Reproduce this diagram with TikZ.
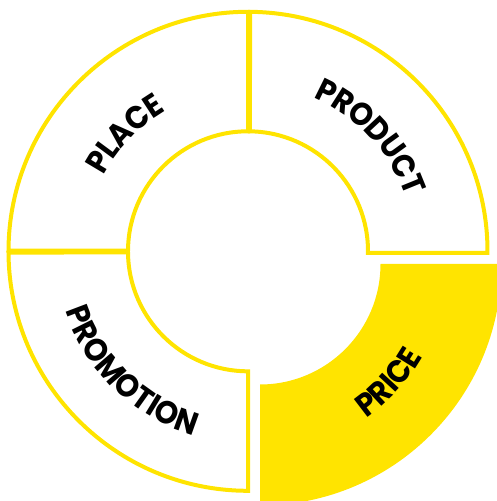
\documentclass[tikz,border=0pt]{standalone}
\usepackage{fontspec}
\usepackage{graphicx}
\setmainfont{Poppins}
\definecolor{ringyellow}{RGB}{255,228,0}
\newcommand\lblfont{\fontsize{32}{32}\selectfont\bfseries}
\newcommand\lblchar[1]{\scalebox{0.93}[1]{#1}}
\newlength\chw
\newcommand\measurechar[1]{%
  \settowidth\chw{\lblfont\lblchar{#1}}%
  \expandafter\xdef\csname lw#1\endcsname{\the\chw}}
\tikzset{
  ring/.style={draw=ringyellow,line width=4pt,line join=miter},
  pricefill/.style={fill=ringyellow,draw=none},
  lbl/.style={anchor=base,inner sep=0pt,font=\lblfont,text=black}
}
% #1 name, #2 start angle, #3 end angle, #4 baseline radius, #5 direction (1 ccw, -1 cw), #6 letters
\newcommand\arclabel[6]{%
  \gdef\arcW{0}\gdef\arcN{0}%
  \foreach \ch in {#6}{%
    \pgfmathsetmacro\tmpa{\arcW+\csname lw\ch\endcsname}\global\let\arcW\tmpa
    \pgfmathsetmacro\tmpb{\arcN+1}\global\let\arcN\tmpb
  }%
  \pgfmathsetmacro\arcL{abs(rad(#3-#2))*#4}%
  \pgfmathsetmacro\arcSp{(\arcL-\arcW)/(\arcN-1)}%
  \pgfmathsetmacro\arcMid{(#2+#3)/2}%
  \gdef\arcPos{0}%
  \foreach \ch [count=\arcK] in {#6}{%
    \pgfmathsetmacro\arcCw{\csname lw\ch\endcsname}%
    \pgfmathsetmacro\arcS{\arcPos+\arcCw/2-\arcL/2}%
    \pgfmathsetmacro\arcAng{\arcMid+#5*deg(\arcS/#4)}%
    \pgfmathsetmacro\arcRot{\arcAng+#5*90}%
    \node[lbl,rotate=\arcRot] (#1\arcK) at (\arcAng:#4) {\lblchar{\ch}};
    \pgfmathsetmacro\tmpc{\arcPos+\arcCw+\arcSp}\global\let\arcPos\tmpc
  }%
}
\begin{document}
\measurechar{P}\measurechar{L}\measurechar{A}\measurechar{C}\measurechar{E}%
\measurechar{R}\measurechar{O}\measurechar{D}\measurechar{U}\measurechar{T}%
\measurechar{M}\measurechar{I}\measurechar{N}%
\begin{tikzpicture}[x=1pt,y=1pt]
\useasboundingbox (0,0) rectangle (497,501);
\clip (0,0) rectangle (497,501);
% price (exploded, filled)
\begin{scope}[shift={(260,237)}]
  \path[pricefill] (270:241.5) arc[start angle=270,end angle=360,radius=241.5]
     -- (0:120.5) arc[start angle=0,end angle=-90,radius=120.5] -- cycle;
  \arclabel{price}{-55.4}{-29.6}{187}{1}{P,R,I,C,E}
\end{scope}
\begin{scope}[shift={(248,249.7)}]
  % place
  \draw[ring] (90:239.5) arc[start angle=90,end angle=179.81,radius=239.5]
     -- (179.62:120) arc[start angle=179.62,end angle=90,radius=120] -- cycle;
  % product
  \draw[ring] (89.52:239.5) arc[start angle=89.52,end angle=-0.36,radius=239.5]
     -- (-0.72:120) arc[start angle=-0.72,end angle=89.05,radius=120] -- cycle;
  % promotion
  \draw[ring] (180.29:239.5) arc[start angle=180.29,end angle=270,radius=239.5]
     -- (270:120) arc[start angle=270,end angle=180.57,radius=120] -- cycle;
  % labels
  \arclabel{place}{152.4}{120.3}{163}{-1}{P,L,A,C,E}
  \arclabel{product}{66.9}{19.1}{167}{-1}{P,R,O,D,U,C,T}
  \arclabel{promotion}{198}{253.7}{192}{1}{P,R,O,M,O,T,I,O,N}
\end{scope}
\end{tikzpicture}
\end{document}
